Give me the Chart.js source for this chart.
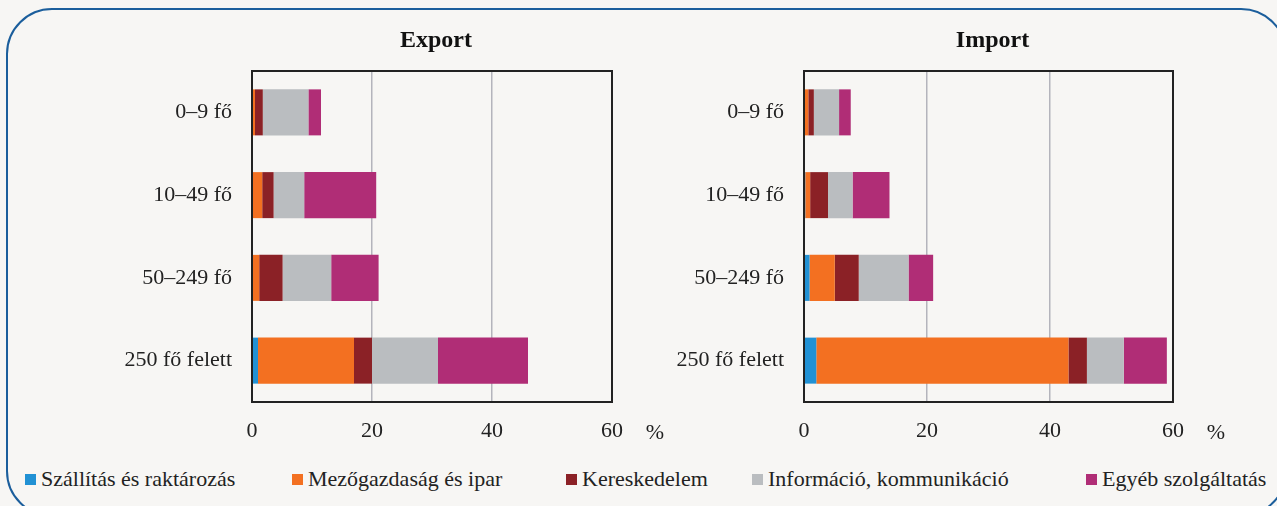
<!DOCTYPE html>
<html>
<head>
<meta charset="utf-8">
<script src="https://cdn.jsdelivr.net/npm/chart.js@4.4.1/dist/chart.umd.min.js"></script>
<style>
  html, body { margin: 0; padding: 0; background: #f7f6f4; }
  body { width: 1277px; height: 506px; position: relative; overflow: hidden; font-family: "Liberation Serif", "DejaVu Serif", serif; }
  #frame { position: absolute; left: 6px; top: 8px; width: 1281px; height: 509px; border: 2px solid #1b5e9c; border-radius: 46px; box-sizing: border-box; }
  canvas { position: absolute; top: 0; }
  #c1 { left: 0; }
  #c2 { left: 640px; }
  .leg { position: absolute; top: 466px; font-size: 22px; color: #222; white-space: nowrap; }
  .leg span { display: inline-block; width: 11px; height: 11px; margin-right: 5px; vertical-align: 1px; }
</style>
</head>
<body>
<div id="frame"></div>
<canvas id="c1" width="670" height="450" style="width:670px;height:450px"></canvas>
<canvas id="c2" width="637" height="450" style="width:637px;height:450px"></canvas>
<div id="legend"></div>
<script>
var categories = ['0–9 fő', '10–49 fő', '50–249 fő', '250 fő felett'];
var seriesNames = ['Szállítás és raktározás', 'Mezőgazdaság és ipar', 'Kereskedelem', 'Információ, kommunikáció', 'Egyéb szolgáltatás'];
var seriesColors = ['#2191d4', '#f37021', '#8b2126', '#babdc0', '#b02d76'];

// Export, %
var exportSzallitas = [0.1, 0.1, 0.1, 1.0];
var exportMezogazd = [0.4, 1.6, 1.1, 16.0];
var exportKeresk = [1.3, 1.9, 3.9, 3.0];
var exportInfo = [7.6, 5.1, 8.1, 11.0];
var exportEgyeb = [2.1, 12.0, 7.9, 15.0];

// Import, %
var importSzallitas = [0.1, 0.2, 0.9, 2.0];
var importMezogazd = [0.6, 0.8, 4.1, 41.0];
var importKeresk = [0.9, 2.9, 3.9, 3.0];
var importInfo = [4.1, 4.0, 8.1, 6.0];
var importEgyeb = [1.9, 6.0, 4.0, 7.0];

var xTicks = [0, 20, 40, 60];

var legendLeft = [25, 292, 566, 752, 1086];

Chart.defaults.font.family = '"Liberation Serif", "DejaVu Serif", serif';
Chart.defaults.color = '#222';
Chart.defaults.animation = false;

var boxPlugin = {
  id: 'box',
  afterDraw: function (chart, args, opts) {
    var a = chart.chartArea, ctx = chart.ctx;
    ctx.save();
    ctx.strokeStyle = '#222';
    ctx.lineWidth = 2;
    ctx.strokeRect(a.left, a.top, a.right - a.left, a.bottom - a.top);
    ctx.fillStyle = '#222';
    ctx.font = '22px "Liberation Serif", serif';
    ctx.textAlign = 'center';
    ctx.textBaseline = 'middle';
    ctx.fillText('%', a.right + 43, 433);
    ctx.fillStyle = '#111';
    ctx.font = 'bold 24px "Liberation Serif", serif';
    ctx.fillText(opts.text, (a.left + a.right) / 2 + 4, 41);
    ctx.restore();
  }
};

function makeChart(id, title, values, yWidth, rightPad) {
  var datasets = values.map(function (v, i) {
    return {
      label: seriesNames[i],
      data: v,
      backgroundColor: seriesColors[i],
      borderWidth: 0,
      barPercentage: 0.556,
      categoryPercentage: 1
    };
  });
  return new Chart(document.getElementById(id), {
    type: 'bar',
    data: { labels: categories, datasets: datasets },
    options: {
      indexAxis: 'y',
      responsive: false,
      layout: { padding: { left: 0, right: rightPad, top: 71, bottom: 0 } },
      plugins: {
        legend: { display: false },
        tooltip: { enabled: false },
        title: { display: false },
        box: { text: title }
      },
      scales: {
        x: {
          stacked: true,
          min: 0,
          max: 60,
          afterBuildTicks: function (s) { s.ticks = xTicks.map(function (v) { return { value: v }; }); },
          ticks: { font: { size: 22 }, padding: 16, color: '#222' },
          grid: {
            drawTicks: false,
            lineWidth: 1.5,
            color: function (c) { return (c.tick && (c.tick.value === 0 || c.tick.value === 60)) ? 'rgba(0,0,0,0)' : '#b4b4bc'; }
          },
          border: { display: false },
          afterFit: function (s) { s.height = 48; }
        },
        y: {
          stacked: true,
          ticks: { font: { size: 22 }, padding: 20, color: '#222' },
          grid: { display: false, drawTicks: false },
          border: { display: false },
          afterFit: function (s) { s.width = yWidth; }
        }
      }
    },
    plugins: [boxPlugin]
  });
}

makeChart('c1', 'Export', [exportSzallitas, exportMezogazd, exportKeresk, exportInfo, exportEgyeb], 252, 58);
makeChart('c2', 'Import', [importSzallitas, importMezogazd, importKeresk, importInfo, importEgyeb], 164, 104);

var leg = document.getElementById('legend');
seriesNames.forEach(function (name, i) {
  var d = document.createElement('div');
  d.className = 'leg';
  d.style.left = legendLeft[i] + 'px';
  d.innerHTML = '<span style="background:' + seriesColors[i] + '"></span>' + name;
  leg.appendChild(d);
});
</script>
</body>
</html>
